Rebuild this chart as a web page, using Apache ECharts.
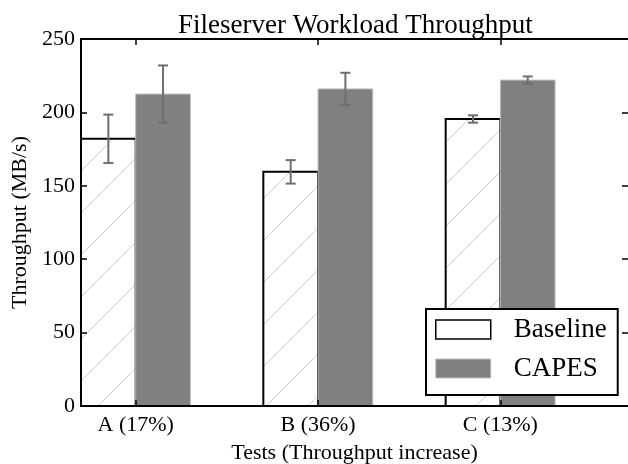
<!DOCTYPE html>
<html>
<head>
<meta charset="utf-8">
<script src="https://cdn.jsdelivr.net/npm/echarts@6/dist/echarts.min.js"></script>
<style>
  html, body { margin: 0; padding: 0; background: #fff; }
  #chart { width: 628px; height: 464px; }
</style>
</head>
<body>
<div id="chart"></div>
<script>
// data
const categories = ['A (17%)', 'B (36%)', 'C (13%)'];
const tickPos = [0.3, 1.3, 2.3];
const baseline = [182, 159.5, 195.5];
const baselineErr = [16.5, 8, 2.5];
const capes = [212.5, 216, 222];
const capesErr = [19.5, 11, 2.5];

const FONT = 'Liberation Serif';
const barW = 0.3;

// hatch pattern for baseline bars
const hatch = document.createElement('canvas');
hatch.width = 42;
hatch.height = 42;
const hctx = hatch.getContext('2d');
hctx.strokeStyle = '#cfcfcf';
hctx.lineWidth = 1;
hctx.beginPath();
hctx.moveTo(-2, 44); hctx.lineTo(44, -2);
hctx.moveTo(-2, 2); hctx.lineTo(2, -2);
hctx.moveTo(40, 44); hctx.lineTo(44, 40);
hctx.stroke();

function makeRender(offset, isBaseline) {
    return function (params, api) {
        const i = api.value(0);
        const v = api.value(1);
        const e = api.value(2);
        const p0 = api.coord([i + offset, v]);
        const p1 = api.coord([i + offset + barW, 0]);
        const cx = api.coord([i + offset + barW / 2, 0])[0];
        const top = api.coord([0, v + e])[1];
        const bot = api.coord([0, v - e])[1];
        const errStyle = { stroke: '#6e6e6e', lineWidth: 2 };
        const children = [];
        if (isBaseline) {
            children.push({
                type: 'rect',
                shape: { x: p0[0], y: p0[1], width: p1[0] - p0[0], height: p1[1] - p0[1] },
                style: { fill: { image: hatch, repeat: 'repeat' }, stroke: '#000', lineWidth: 2 }
            });
        } else {
            children.push({
                type: 'rect',
                shape: { x: p0[0], y: p0[1], width: p1[0] - p0[0], height: p1[1] - p0[1] },
                style: { fill: '#808080', stroke: '#bdbdbd', lineWidth: 1 }
            });
        }
        children.push({ type: 'line', shape: { x1: cx, y1: top, x2: cx, y2: bot }, style: errStyle });
        children.push({ type: 'line', shape: { x1: cx - 5, y1: top, x2: cx + 5, y2: top }, style: errStyle });
        children.push({ type: 'line', shape: { x1: cx - 5, y1: bot, x2: cx + 5, y2: bot }, style: errStyle });
        return { type: 'group', children: children };
    };
}

const labelStyle = { fontFamily: FONT, fontSize: 22, color: '#000' };

const option = {
    backgroundColor: '#fff',
    animation: false,
    title: {
        text: 'Fileserver Workload Throughput',
        left: 178,
        top: 12,
        padding: 0,
        textStyle: { fontFamily: FONT, fontSize: 27, fontWeight: 'normal', color: '#000' }
    },
    legend: {
        orient: 'vertical',
        left: 426,
        top: 309,
        padding: [7, 11, 13, 9],
        itemGap: 12,
        itemWidth: 55,
        itemHeight: 19,
        backgroundColor: '#fff',
        borderColor: '#000',
        borderWidth: 2,
        selectedMode: false,
        textStyle: { fontFamily: FONT, fontSize: 27, color: '#000', padding: [0, 0, 0, 18] },
        data: [
            { name: 'Baseline', icon: 'rect', itemStyle: { color: '#fff', borderColor: '#000', borderWidth: 1.5 } },
            { name: 'CAPES', icon: 'rect', itemStyle: { color: '#808080', borderColor: '#bdbdbd', borderWidth: 1 } }
        ]
    },
    grid: { left: 81, right: 0, top: 39, bottom: 58, outerBoundsMode: 'none' },
    xAxis: [{
        type: 'value',
        min: 0,
        max: 3,
        position: 'bottom',
        z: 5,
        splitLine: { show: false },
        axisLine: { show: true, onZero: false, lineStyle: { color: '#000', width: 2 } },
        axisTick: { show: true, inside: true, length: 6, customValues: tickPos, lineStyle: { color: '#000', width: 1.5 } },
        axisLabel: {
            show: true,
            customValues: tickPos,
            margin: 8,
            formatter: function (val) { return categories[Math.round(val - 0.3)]; },
            ...labelStyle
        },
        name: 'Tests (Throughput increase)',
        nameLocation: 'middle',
        nameGap: 36,
        nameTextStyle: labelStyle
    }, {
        type: 'value',
        min: 0,
        max: 3,
        position: 'top',
        z: 5,
        splitLine: { show: false },
        axisLine: { show: true, onZero: false, lineStyle: { color: '#000', width: 2 } },
        axisTick: { show: true, inside: true, length: 6, customValues: tickPos, lineStyle: { color: '#000', width: 1.5 } },
        axisLabel: { show: false }
    }],
    yAxis: [{
        type: 'value',
        min: 0,
        max: 250,
        interval: 50,
        z: 5,
        splitLine: { show: false },
        axisLine: { show: true, onZero: false, lineStyle: { color: '#000', width: 2 } },
        axisTick: { show: true, inside: true, length: 6, lineStyle: { color: '#000', width: 1.5 } },
        axisLabel: { margin: 6, ...labelStyle },
        name: 'Throughput (MB/s)',
        nameLocation: 'middle',
        nameGap: 50,
        nameTextStyle: labelStyle
    }, {
        type: 'value',
        min: 0,
        max: 250,
        interval: 50,
        position: 'right',
        z: 5,
        splitLine: { show: false },
        axisLine: { show: false, onZero: false },
        axisTick: { show: true, inside: true, length: 6, lineStyle: { color: '#000', width: 1.5 } },
        axisLabel: { show: false }
    }],
    series: [{
        name: 'Baseline',
        type: 'custom',
        xAxisIndex: 0,
        yAxisIndex: 0,
        encode: { x: 0, y: 1 },
        itemStyle: { color: '#fff', borderColor: '#000' },
        renderItem: makeRender(0, true),
        data: baseline.map((v, i) => [i, v, baselineErr[i]])
    }, {
        name: 'CAPES',
        type: 'custom',
        xAxisIndex: 0,
        yAxisIndex: 0,
        encode: { x: 0, y: 1 },
        itemStyle: { color: '#808080' },
        renderItem: makeRender(barW, false),
        data: capes.map((v, i) => [i, v, capesErr[i]])
    }]
};

const chart = echarts.init(document.getElementById('chart'));
chart.setOption(option);
</script>
</body>
</html>
